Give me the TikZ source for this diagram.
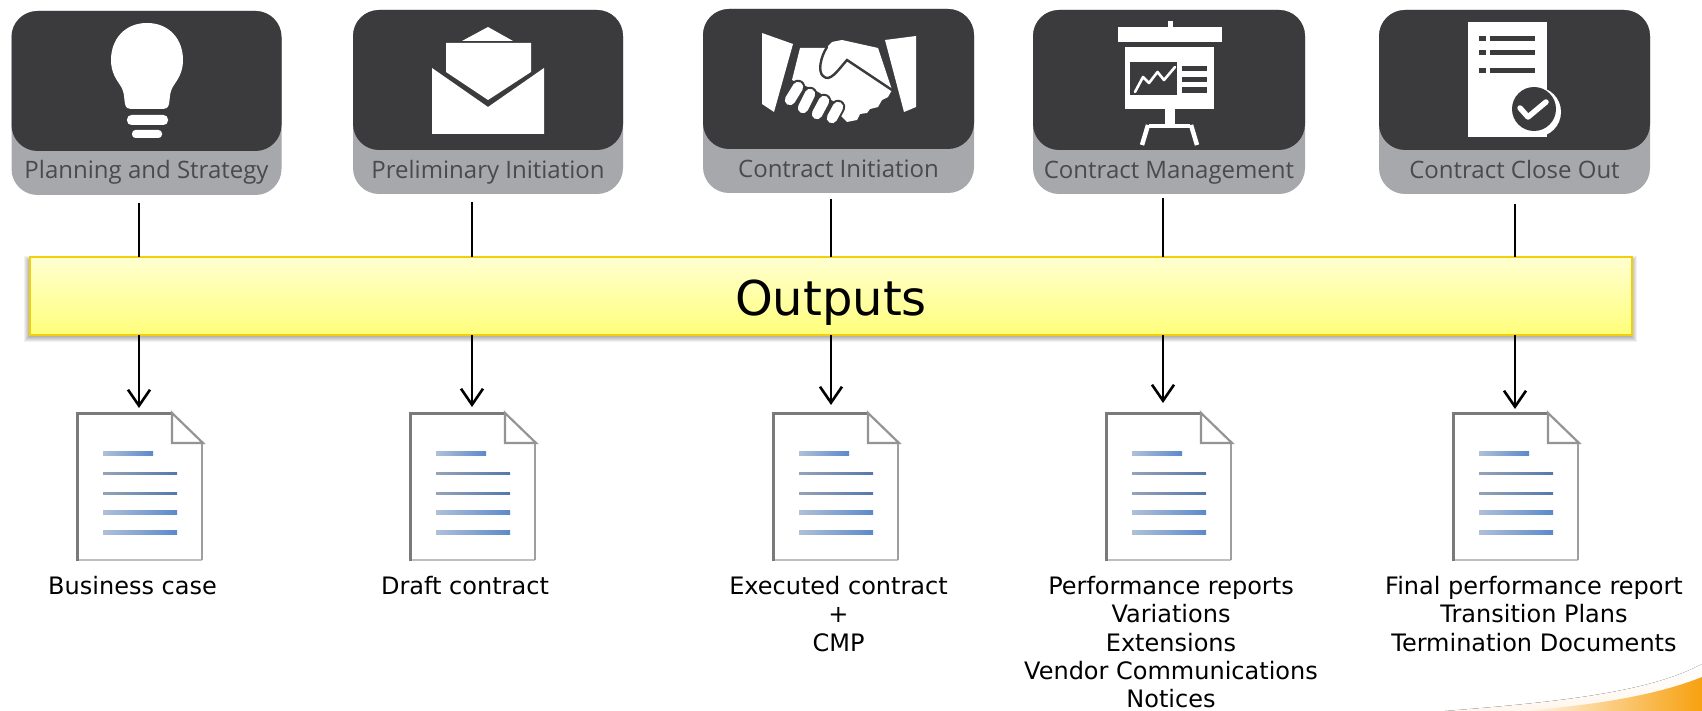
\documentclass[tikz,border=0pt]{standalone}
\usepackage{fontspec}
\setmainfont{DejaVu Sans}
\newfontfamily\cardfont{Open Sans}
\usetikzlibrary{arrows.meta}
\definecolor{cdark}{HTML}{3B3B3D}
\definecolor{cgrey}{HTML}{A7A8AB}
\definecolor{clabel}{HTML}{4A4A4C}
\definecolor{cbord}{HTML}{F2CF0A}
\definecolor{cblueL}{HTML}{AFC0D8}
\definecolor{cblueR}{HTML}{5B89CC}
\definecolor{corange}{HTML}{F7A10F}
\tikzset{
  x=1pt,y=-1pt,
  cardbase/.style={fill=cgrey,rounded corners=26pt,minimum height=184pt,inner sep=0pt,outer sep=0pt},
  cardtop/.style={fill=cdark,rounded corners=26pt,minimum height=140pt,inner sep=0pt,outer sep=0pt},
  cardtext/.style={text=clabel,inner sep=0pt,anchor=base,font=\cardfont\fontsize{24}{26}\selectfont},
  wicon/.style={fill=white,draw=none},
  dicon/.style={fill=cdark,draw=none},
  link/.style={draw=black,line width=2.6pt},
  linkarrow/.style={link,-{Straight Barb[length=16pt,width=22pt,line width=2.6pt]}},
  outtext/.style={align=center,inner sep=0pt,anchor=north,font=\fontsize{24}{28.3}\selectfont},
  docbox/.style={inner sep=0pt,outer sep=0pt,minimum width=127pt,minimum height=149pt},
  bluethick/.style={left color=cblueL,right color=cblueR,draw=none},
}
% \cardicon{name}{center x}{top y}{width}{label}{baseline y}
\newcommand{\cardicon}[6]{%
  \node[cardbase,minimum width=#4 pt,anchor=north] (#1) at (#2,#3) {};
  \node[cardtop,minimum width=#4 pt,anchor=north] (#1top) at (#2,#3) {};
  \node[cardtext] (#1lab) at (#2,#6) {#5};
}
% \docicon{name}{left x}
\newcommand{\docicon}[2]{%
  \node[docbox,anchor=north west] (#1) at (#2,412) {};
  \begin{scope}[shift={(#2,412)}]
    \fill[white] (0,0) -- (96,0) -- (127,31) -- (127,149) -- (0,149) -- cycle;
    \draw[color=black!25,line width=2pt] (0,148) -- (126,148);
    \draw[color=black!38,line width=2pt] (126,30) -- (126,148);
    \draw[color=black!52,line width=3.2pt,line join=miter] (1.5,149) -- (1.5,1.5) -- (96,1.5);
    \draw[color=black!42,line width=2.2pt,line join=miter] (96,1) -- (127,31) -- (96,31) -- cycle;
    \fill[bluethick] (27,39.5) rectangle (77,43.5);
    \fill[bluethick,opacity=.8] (27,60) rectangle (101,62.5);
    \fill[bluethick,opacity=.8] (27,80) rectangle (101,82.5);
    \fill[bluethick] (27,98.5) rectangle (101,102.5);
    \fill[bluethick] (27,118.5) rectangle (101,122.5);
  \end{scope}
}
\begin{document}
\begin{tikzpicture}
\useasboundingbox (0,0) rectangle (1702,711);
\fill[white] (0,0) rectangle (1702,711);

% swoosh
\fill[top color=white,bottom color=orange!7!white] (1445,711) .. controls (1560,702) and (1650,692) .. (1702,664) -- (1702,711) -- cycle;
\shade[left color=orange!6!white,right color=corange]
  (1520,711) .. controls (1600,705) and (1660,694) .. (1702,677) -- (1702,711) -- cycle;

% cards
\cardicon{c1}{146.5}{11}{270}{Planning and Strategy}{179}
\cardicon{c2}{488}{10}{270}{Preliminary Initiation}{179}
\cardicon{c3}{838.5}{9}{271}{Contract Initiation}{178}
\cardicon{c4}{1169}{10}{272}{Contract Management}{179}
\cardicon{c5}{1514.5}{10}{271}{Contract Close Out}{179}

% bulb
\fill[wicon] (147,23) .. controls (125,23) and (111,39) .. (111,60)
  .. controls (111,72) and (116,79) .. (120,85)
  .. controls (125,92) and (124,100) .. (125,104)
  .. controls (126,108) and (128,109) .. (131,109)
  -- (163,109) .. controls (166,109) and (168,108) .. (169,104)
  .. controls (170,100) and (169,92) .. (174,85)
  .. controls (178,79) and (183,72) .. (183,60)
  .. controls (183,39) and (169,23) .. (147,23) -- cycle;
\fill[wicon,rounded corners=4.5pt] (127,115) rectangle (168,125);
\fill[wicon,rounded corners=3.5pt] (132,130) rectangle (162,138);

% envelope
\fill[wicon] (488,27) -- (513,41) -- (462,41) -- cycle;
\fill[wicon] (446,43) -- (531,43) -- (531,72) -- (488,100) -- (446,72) -- cycle;
\fill[wicon] (432,68) -- (488,107) -- (544,68) -- (544,134) -- (432,134) -- cycle;

% handshake
\fill[wicon] (762,33) -- (793,44) -- (774,112) -- (762,104) -- cycle;
\fill[wicon] (885,40) -- (916,36) -- (916,107) -- (904,112) -- cycle;
\fill[wicon] (800,48) -- (826,48) -- (832,42) -- (842,40) -- (878,48) -- (892,90) -- (888,97)
  -- (882,100) -- (878,107) -- (870,109) -- (867,113) -- (860,114) -- (857,120) -- (847,122) -- (840,115)
  -- (838,104) -- (815,90) -- (792,80) -- cycle;
\draw[draw=cdark,line width=2.4pt,line cap=round] (827,47) .. controls (820,58) and (818,72) .. (823,76)
  .. controls (830,83) and (838,70) .. (847,60) -- (892,90);
\foreach \xa/\ya/\xb/\yb in {798/87/790/100,810/94/803/108,824/101/817/114,838/107/832/118}{
  \draw[cdark,line width=14.5pt,line cap=round] (\xa,\ya) -- (\xb,\yb);
  \draw[white,line width=10.5pt,line cap=round] (\xa,\ya) -- (\xb,\yb);
}

% presentation
\fill[wicon] (1167.5,21) rectangle (1172.5,30);
\fill[wicon] (1117.5,27) rectangle (1222,42);
\fill[wicon] (1125,47) rectangle (1213.5,109);
\fill[dicon] (1130,62) rectangle (1177,95);
\fill[dicon] (1182,66) rectangle (1206.5,71);
\fill[dicon] (1182,77) rectangle (1206.5,82);
\fill[dicon] (1182,87) rectangle (1206.5,93);
\draw[white,line width=2.6pt,line cap=round,line join=round] (1135,92) -- (1143,77) -- (1149,83) -- (1157.5,72) -- (1164,80) -- (1175,67);
\fill[wicon] (1164.5,109) rectangle (1175,125);
\fill[wicon] (1149,124) rectangle (1190,128);
\draw[white,line width=4.5pt] (1148,125) -- (1142,145);
\draw[white,line width=4.5pt] (1191,125) -- (1197,145);

% checklist
\fill[wicon] (1468,22) rectangle (1547,137);
\fill[wicon] (1536,112) circle (25pt);
\fill[dicon] (1534,109) circle (22pt);
\foreach \yy in {36,50,68}{
  \fill[dicon] (1479,\yy) rectangle (1486,\yy+5);
  \fill[dicon] (1490,\yy) rectangle (1535,\yy+5);
}
\draw[white,line width=5.5pt,line cap=round,line join=round] (1520,108) -- (1528,117) -- (1546,102);

% docs
\docicon{d1}{76}
\docicon{d2}{409}
\docicon{d3}{772}
\docicon{d4}{1105}
\docicon{d5}{1452}

% bar shadow
\foreach \gg in {6,5,4,3,2,1}{
  \fill[black,opacity=.055] (29-\gg+1,262-\gg) rectangle (1631+\gg,336+\gg);
}
\node[minimum width=1602pt,minimum height=78pt,inner sep=0pt,outer sep=0pt,anchor=north west,
  top color=yellow!18!white,bottom color=yellow!52!white,
  draw=cbord,line width=2pt] (bar) at (29.5,257) {};
\node[inner sep=0pt,anchor=base,font=\fontsize{48}{56}\selectfont] (barlab) at (831,315) {Outputs};

% connector ends
\coordinate (t1) at (139,203);
\coordinate (t2) at (472,202);
\coordinate (t3) at (831,199);
\coordinate (t4) at (1163,198);
\coordinate (t5) at (1515,204);
\coordinate (a1) at (139,408);
\coordinate (a2) at (472,407);
\coordinate (a3) at (831,405);
\coordinate (a4) at (1163,403);
\coordinate (a5) at (1515,409);
\foreach \i in {1,...,5}{
  \draw[link] (t\i) -- (t\i |- bar.north);
  \draw[linkarrow] (t\i |- bar.south) -- (a\i);
}

% output texts
\node[outtext] (o1) at (132.5,576) {Business case};
\node[outtext] (o2) at (465,576) {Draft contract};
\node[outtext] (o3) at (838.5,576) {Executed contract\\+\\CMP};
\node[outtext] (o4) at (1171,576) {Performance reports\\Variations\\Extensions\\Vendor Communications\\Notices};
\node[outtext] (o5) at (1534,576) {Final performance report\\Transition Plans\\Termination Documents};
\end{tikzpicture}
\end{document}
